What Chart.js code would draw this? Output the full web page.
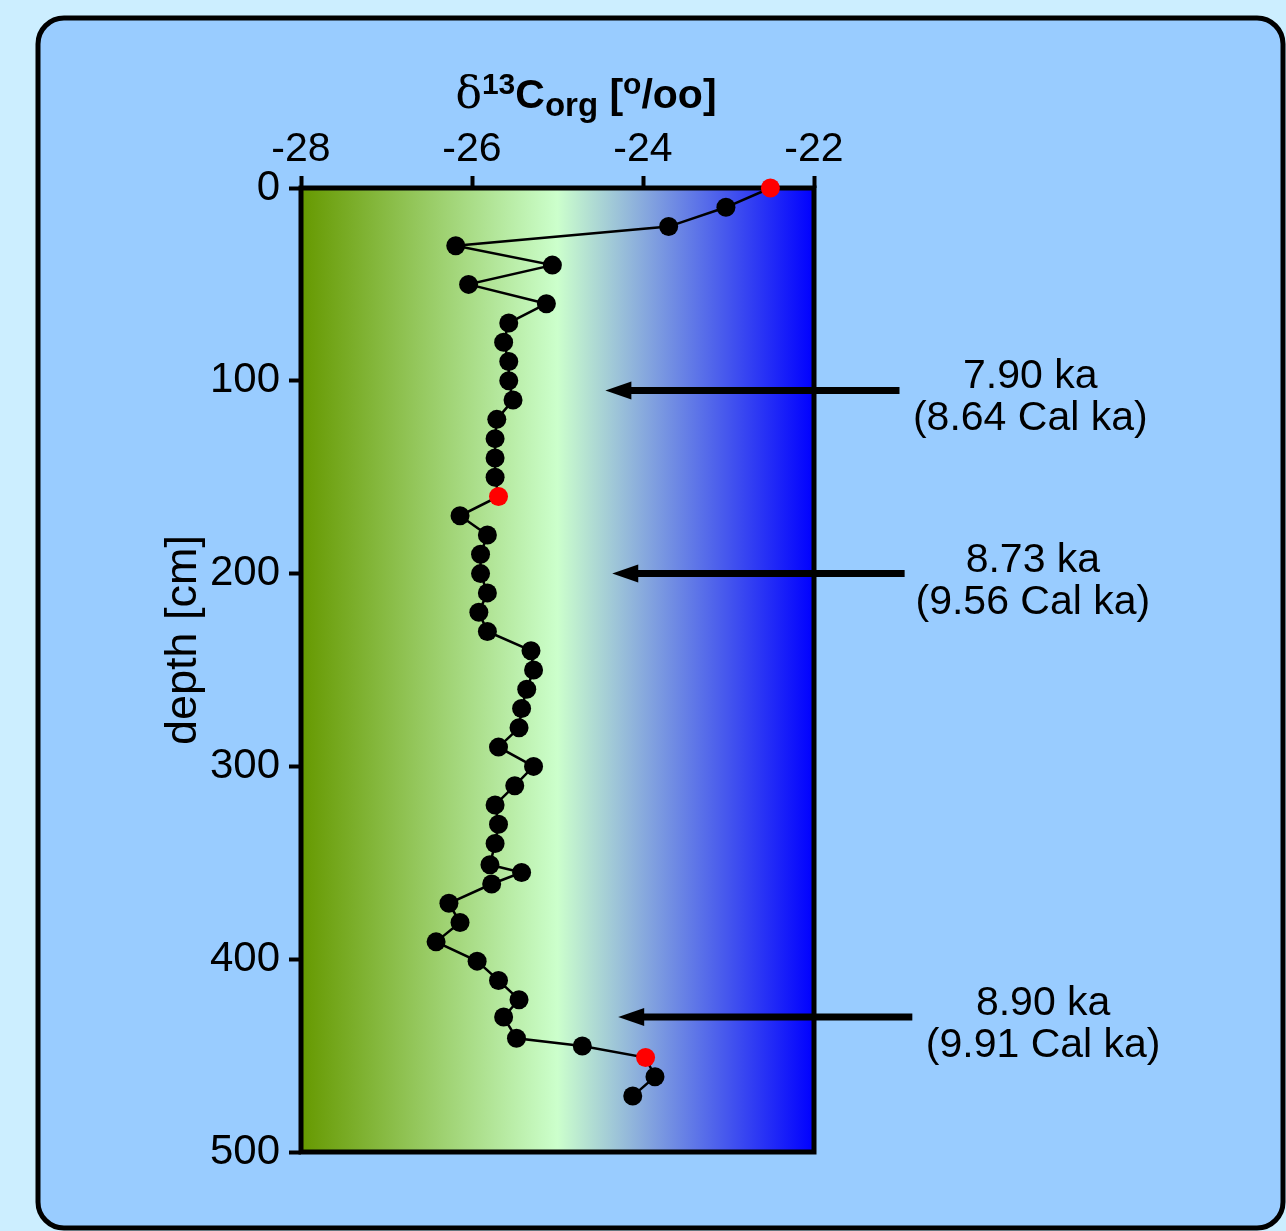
<!DOCTYPE html>
<html>
<head>
<meta charset="utf-8">
<script src="https://cdn.jsdelivr.net/npm/chart.js@4.4.1/dist/chart.umd.min.js"></script>
<style>
  html, body { margin: 0; padding: 0; background: #cceeff; }
  #wrap { width: 1286px; height: 1231px; }
</style>
</head>
<body>
<div id="wrap"><canvas id="chart" width="1286" height="1231"></canvas></div>
<script>
// ===== DATA =====
const depth = [0, 10, 20, 30, 40, 50, 60, 70, 80, 90, 100, 110, 120, 130, 140, 150, 160, 170, 180, 190,
  200, 210, 220, 230, 240, 250, 260, 270, 280, 290, 300, 310, 320, 330, 340, 351, 355, 361, 371, 381,
  391, 401, 411, 421, 430, 441, 445, 451, 461, 471];
const d13c = [-22.51, -23.03, -23.70, -26.19, -25.06, -26.04, -25.13, -25.57, -25.63, -25.57,
  -25.57, -25.52, -25.71, -25.73, -25.73, -25.73, -25.69, -26.14, -25.82, -25.90,
  -25.90, -25.82, -25.92, -25.82, -25.31, -25.28, -25.36, -25.42, -25.45, -25.69,
  -25.28, -25.50, -25.73, -25.69, -25.73, -25.79, -25.42, -25.77, -26.27, -26.14,
  -26.42, -25.94, -25.69, -25.45, -25.63, -25.48, -24.71, -23.97, -23.86, -24.12];
// dated samples (red)
const datedDepths = [0, 160, 451];

const xTicks = [-28, -26, -24, -22];
const yTicks = [0, 100, 200, 300, 400, 500];

// annotation arrows: depth, arrow start / tip in per-mil units, text centre
const arrowDepth = [105, 200, 430];
const arrowFrom = [-21.0, -20.94, -20.85];
const arrowTip = [-24.44, -24.36, -24.29];
const labelX = [-19.47, -19.44, -19.32];
const labelLine1 = ["7.90 ka", "8.73 ka", "8.90 ka"];
const labelLine2 = ["(8.64 Cal ka)", "(9.56 Cal ka)", "(9.91 Cal ka)"];

const FONT = "'Liberation Sans', Arial, Helvetica, sans-serif";

const points = depth.map((d, i) => ({ x: d13c[i], y: d }));
const pointColors = depth.map((d) => (datedDepths.includes(d) ? "#ff0000" : "#000000"));

// ===== PLUGIN: background, gradient, frame, labels =====
const deco = {
  id: "deco",
  beforeDraw(chart) {
    const ctx = chart.ctx;
    ctx.save();
    ctx.fillStyle = "#cceeff";
    ctx.fillRect(0, 0, chart.width, chart.height);
    ctx.beginPath();
    ctx.roundRect(38, 18, 1245, 1210, 26);
    ctx.fillStyle = "#99ccff";
    ctx.fill();
    ctx.lineWidth = 5;
    ctx.strokeStyle = "#000";
    ctx.stroke();
    ctx.restore();
  },
  beforeDatasetsDraw(chart) {
    const { ctx, chartArea: a } = chart;
    ctx.save();
    const g = ctx.createLinearGradient(a.left, 0, a.right, 0);
    g.addColorStop(0, "#669900");
    g.addColorStop(0.5, "#ccffcc");
    g.addColorStop(1, "#0000ff");
    ctx.fillStyle = g;
    ctx.fillRect(a.left, a.top, a.right - a.left, a.bottom - a.top);
    ctx.lineWidth = 5;
    ctx.strokeStyle = "#000";
    ctx.strokeRect(a.left, a.top, a.right - a.left, a.bottom - a.top);
    ctx.restore();
  },
  afterDraw(chart) {
    const { ctx, scales } = chart;
    const xs = scales.x, ys = scales.y;
    ctx.save();
    // arrows + labels
    for (let i = 0; i < arrowDepth.length; i++) {
      const y = ys.getPixelForValue(arrowDepth[i]);
      const x0 = xs.getPixelForValue(arrowFrom[i]);
      const x1 = xs.getPixelForValue(arrowTip[i]);
      ctx.strokeStyle = "#000";
      ctx.lineWidth = 7;
      ctx.beginPath();
      ctx.moveTo(x0, y);
      ctx.lineTo(x1 + 20, y);
      ctx.stroke();
      ctx.fillStyle = "#000";
      ctx.beginPath();
      ctx.moveTo(x1, y);
      ctx.lineTo(x1 + 26, y - 9);
      ctx.lineTo(x1 + 26, y + 9);
      ctx.closePath();
      ctx.fill();

      const lx = xs.getPixelForValue(labelX[i]);
      ctx.font = "41px " + FONT;
      ctx.textAlign = "center";
      ctx.textBaseline = "alphabetic";
      ctx.fillText(labelLine1[i], lx, y - 2);
      ctx.fillText(labelLine2[i], lx, y + 40);
    }

    // y axis title
    ctx.save();
    ctx.translate(196, 640);
    ctx.rotate(-Math.PI / 2);
    ctx.font = "45px " + FONT;
    ctx.textAlign = "center";
    ctx.fillText("depth [cm]", 0, 0);
    ctx.restore();

    // x axis title: δ13Corg [o/oo]
    const parts = [
      { t: "\u03b4", f: "44px 'DejaVu Serif', serif", dy: 0 },
      { t: "13", f: "bold 30px " + FONT, dy: -14 },
      { t: "C", f: "bold 41px " + FONT, dy: 0 },
      { t: "org", f: "bold 33px " + FONT, dy: 8 },
      { t: " [", f: "bold 41px " + FONT, dy: 0 },
      { t: "o", f: "bold 30px " + FONT, dy: -14 },
      { t: "/oo]", f: "bold 41px " + FONT, dy: 0 },
    ];
    let total = 0;
    parts.forEach((p) => { ctx.font = p.f; p.w = ctx.measureText(p.t).width; total += p.w; });
    let tx = 586 - total / 2;
    ctx.textAlign = "left";
    ctx.fillStyle = "#000";
    parts.forEach((p) => {
      ctx.font = p.f;
      ctx.fillText(p.t, tx, 108 + p.dy);
      tx += p.w;
    });
    ctx.restore();
  },
};

new Chart(document.getElementById("chart"), {
  type: "line",
  data: {
    datasets: [
      {
        data: points,
        borderColor: "#000",
        borderWidth: 2.5,
        pointRadius: 9.5,
        pointHoverRadius: 9.5,
        pointBackgroundColor: pointColors,
        pointBorderColor: pointColors,
        pointBorderWidth: 0,
        tension: 0,
        clip: false,
      },
    ],
  },
  options: {
    responsive: false,
    animation: false,
    events: [],
    layout: { padding: { left: 0, top: 0, right: 472, bottom: 79 } },
    plugins: { legend: { display: false }, tooltip: { enabled: false } },
    scales: {
      x: {
        type: "linear",
        position: "top",
        min: -28,
        max: -22,
        afterBuildTicks: (s) => { s.ticks = xTicks.map((v) => ({ value: v })); },
        afterFit: (s) => { s.height = 188; },
        ticks: { color: "#000", font: { family: FONT, size: 41 }, padding: 2, maxRotation: 0 },
        grid: { drawOnChartArea: false, drawTicks: true, tickLength: 12, tickWidth: 4, tickColor: "#000" },
        border: { display: false },
      },
      y: {
        type: "linear",
        reverse: true,
        min: 0,
        max: 500,
        afterBuildTicks: (s) => { s.ticks = yTicks.map((v) => ({ value: v })); },
        afterFit: (s) => { s.width = 301; },
        ticks: { color: "#000", font: { family: FONT, size: 42 }, padding: 9 },
        grid: { drawOnChartArea: false, drawTicks: true, tickLength: 12, tickWidth: 4, tickColor: "#000" },
        border: { display: false },
      },
    },
  },
  plugins: [deco],
});
</script>
</body>
</html>
